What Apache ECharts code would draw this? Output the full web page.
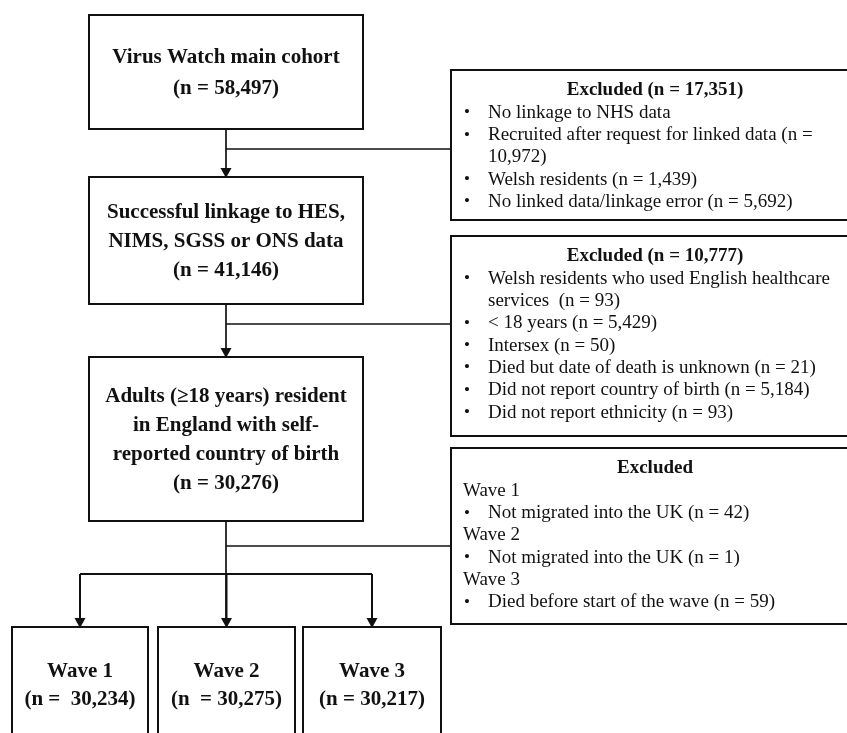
<!DOCTYPE html>
<html>
<head>
<meta charset="utf-8">
<script src="https://cdn.jsdelivr.net/npm/echarts@6/dist/echarts.min.js"></script>
<style>
html,body{margin:0;padding:0;background:#fff;}
#chart{width:847px;height:733px;}
</style>
</head>
<body>
<div id="chart"></div>
<script>
// ---- content (data) ----
const stageLines = [
  ['Virus Watch main cohort', '(n = 58,497)'],
  ['Successful linkage to HES,', 'NIMS, SGSS or ONS data', '(n = 41,146)'],
  ['Adults (\u226518 years) resident', 'in England with self-', 'reported country of birth', '(n = 30,276)']
];
const exclusionTitles = ['Excluded (n = 17,351)', 'Excluded (n = 10,777)', 'Excluded'];
const exclusionKinds = [
  ['bullet', 'bullet', 'cont', 'bullet', 'bullet'],
  ['bullet', 'cont', 'bullet', 'bullet', 'bullet', 'bullet', 'bullet'],
  ['head', 'bullet', 'head', 'bullet', 'head', 'bullet']
];
const exclusionTexts = [
  ['No linkage to NHS data', 'Recruited after request for linked data (n =', '10,972)', 'Welsh residents (n = 1,439)', 'No linked data/linkage error (n = 5,692)'],
  ['Welsh residents who used English healthcare', 'services  (n = 93)', '< 18 years (n = 5,429)', 'Intersex (n = 50)', 'Died but date of death is unknown (n = 21)', 'Did not report country of birth (n = 5,184)', 'Did not report ethnicity (n = 93)'],
  ['Wave 1', 'Not migrated into the UK (n = 42)', 'Wave 2', 'Not migrated into the UK (n = 1)', 'Wave 3', 'Died before start of the wave (n = 59)']
];
const waveLabels = ['Wave 1', 'Wave 2', 'Wave 3'];
const waveCounts = ['(n =  30,234)', '(n  = 30,275)', '(n = 30,217)'];

// ---- layout ----
const SERIF = '"Liberation Serif","Times New Roman",serif';
const INK = '#111';
const stageBoxes = [ {x:89, y:15, w:274, h:114, lh:31}, {x:89, y:177, w:274, h:127, lh:29}, {x:89, y:357, w:274, h:164, lh:29} ];
const exclBoxes = [ {x:451, y:70, h:150}, {x:451, y:236, h:200}, {x:451, y:448, h:176} ];
const exclConnY = [149, 324, 546];
const waveBoxes = [ {x:12, w:136}, {x:158, w:137}, {x:303, w:138} ];
const waveTop = 627;
const CX = 226;

const els = [];
function rect(x, y, w, h, lw) {
  els.push({type:'rect', shape:{x, y, width:w, height:h}, style:{fill:'#fff', stroke:INK, lineWidth:lw}});
}
function line(x1, y1, x2, y2, lw) {
  els.push({type:'line', shape:{x1, y1, x2, y2}, style:{stroke:INK, lineWidth:lw || 1.7}});
}
function arrowHead(x, yTip) {
  els.push({type:'polygon', shape:{points:[[x-5.5, yTip-10], [x+5.5, yTip-10], [x, yTip]]}, style:{fill:INK}});
}
function text(t, x, y, font, align) {
  els.push({type:'text', style:{text:t, x, y, font, fill:INK, align:align || 'center', verticalAlign:'middle'}});
}

// stage boxes
stageBoxes.forEach((b, i) => {
  rect(b.x, b.y, b.w, b.h, 2);
  const lines = stageLines[i];
  const cy = b.y + b.h / 2 + 1.5;
  lines.forEach((t, j) => {
    text(t, b.x + b.w / 2, cy + (j - (lines.length - 1) / 2) * b.lh, 'bold 21px ' + SERIF);
  });
});

// vertical connectors between stages
line(CX, 129, CX, 177 - 9); arrowHead(CX, 178);
line(CX, 304, CX, 357 - 9); arrowHead(CX, 358);
line(CX, 521, CX, waveTop - 9);
// side connectors to exclusion boxes
exclConnY.forEach(y => line(CX, y, 451, y));

// branch to waves
const waveCenters = waveBoxes.map(b => b.x + b.w / 2);
line(waveCenters[0], 574, waveCenters[2], 574, 2);
waveCenters.forEach(cx => { line(cx, 574, cx, waveTop - 9, 2); arrowHead(cx, waveTop + 1); });

// wave boxes
waveBoxes.forEach((b, i) => {
  rect(b.x, waveTop, b.w, 140, 2);
  text(waveLabels[i], b.x + b.w / 2, 672, 'bold 21px ' + SERIF);
  text(waveCounts[i], b.x + b.w / 2, 700, 'bold 21px ' + SERIF);
});

// exclusion boxes
const LH = 22.3;
exclBoxes.forEach((b, i) => {
  rect(b.x, b.y, 420, b.h, 2);
  const ty = b.y + 20.5;
  text(exclusionTitles[i], 655, ty, 'bold 19px ' + SERIF);
  exclusionTexts[i].forEach((t, j) => {
    const y = ty + (j + 1) * LH;
    const k = exclusionKinds[i][j];
    if (k === 'bullet') {
      text('\u2022', 467, y, '17px ' + SERIF);
      text(t, 488, y, '19px ' + SERIF, 'left');
    } else if (k === 'cont') {
      text(t, 488, y, '19px ' + SERIF, 'left');
    } else {
      text(t, 463, y, '19px ' + SERIF, 'left');
    }
  });
});

const chart = echarts.init(document.getElementById('chart'), null, {renderer:'canvas'});
chart.setOption({
  backgroundColor: '#fff',
  animation: false,
  graphic: {elements: els}
});
</script>
</body>
</html>
